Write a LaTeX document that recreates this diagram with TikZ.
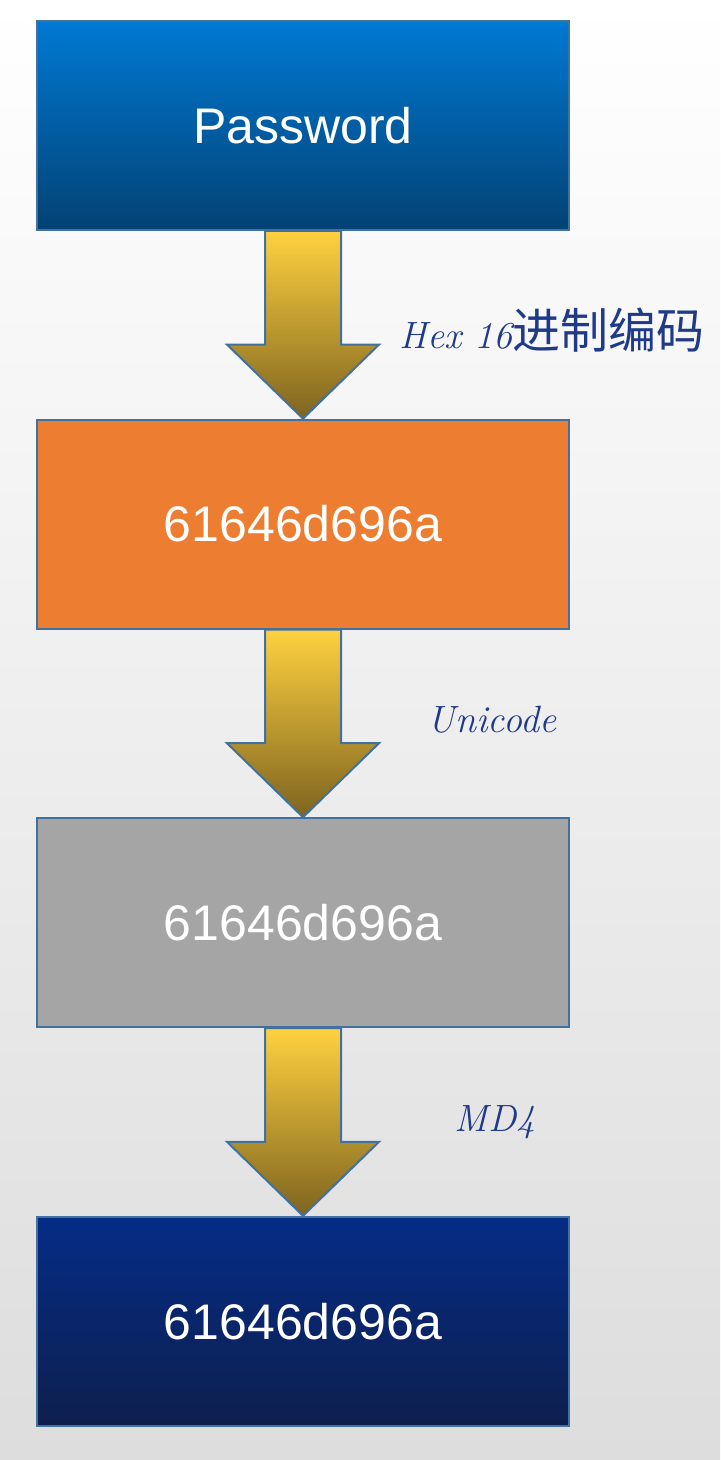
\documentclass[tikz,border=0pt]{standalone}
\usepackage{fontspec}
\setsansfont{Liberation Sans}
\newfontfamily\cjk{Noto Sans CJK SC}
\usetikzlibrary{calc,positioning}

\definecolor{edgeblue}{HTML}{41719C}
\definecolor{lblblue}{HTML}{1F3A88}

% block arrow from the bottom of one box to the top of the next
\newcommand{\flowarrow}[2]{%
  \draw[flow] ($(#1.south)+(-38,0)$) -- ($(#2.north)+(-38,-74)$) -- ($(#2.north)+(-76,-74)$)
    -- (#2.north) -- ($(#2.north)+(76,-74)$) -- ($(#2.north)+(38,-74)$) -- ($(#1.south)+(38,0)$) -- cycle;}

\begin{document}
\begin{tikzpicture}[x=0.5pt, y=-0.5pt,
    box/.style={draw=edgeblue, line width=1pt, minimum width=266pt, minimum height=104.5pt,
      inner sep=0pt, text=white, font=\sffamily\fontsize{25}{30}\selectfont},
    flow/.style={draw=edgeblue, line width=1pt, top color={rgb,255:red,255;green,209;blue,63},
      middle color={rgb,255:red,222;green,180;blue,56}, bottom color={rgb,255:red,126;green,100;blue,32}},
    lbl/.style={text=lblblue, font=\itshape\fontsize{19}{22}\selectfont, inner sep=0pt},
    node distance=93.8pt
]
    \fill[top color=white, bottom color={rgb,255:red,221;green,221;blue,221}] (0,0) rectangle (720,1460);
    \useasboundingbox (0,0) rectangle (720,1460);

    \node[box, top color={rgb,255:red,0;green,121;blue,211}, bottom color={rgb,255:red,3;green,66;blue,116}]
      (pwd) at (303,125.5) {Password};
    \node[box, fill={rgb,255:red,237;green,125;blue,49}, below=of pwd] (hex) {61646d696a};
    \node[box, fill={rgb,255:red,165;green,165;blue,165}, below=of hex] (uni) {61646d696a};
    \node[box, top color={rgb,255:red,5;green,44;blue,134}, bottom color={rgb,255:red,14;green,31;blue,78},
      below=of uni] (md) {61646d696a};

    \flowarrow{pwd}{hex}
    \flowarrow{hex}{uni}
    \flowarrow{uni}{md}

    \node[lbl, anchor=west] (hexlbl) at (399,330) {Hex 16{\cjk\upshape\fontsize{24}{28}\selectfont 进制编码}};
    \node[lbl] (unilbl) at (492,720) {Unicode};
    \node[lbl] (mdlbl) at (495,1122) {MD4};
\end{tikzpicture}
\end{document}
